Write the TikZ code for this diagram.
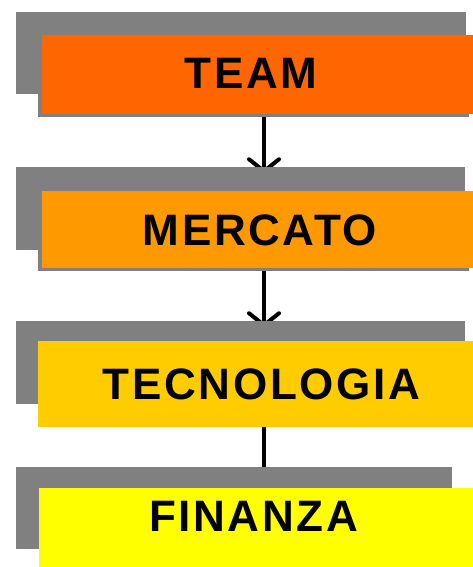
\documentclass[tikz,border=0pt]{standalone}
\usepackage{fontspec}
\setmainfont{Liberation Sans}[LetterSpace=6]
\usetikzlibrary{arrows.meta,backgrounds}
\definecolor{shade}{HTML}{808080}
\definecolor{c1}{HTML}{FF6600}
\definecolor{c2}{HTML}{FF9900}
\definecolor{c3}{HTML}{FFCC00}
\definecolor{c4}{HTML}{FFFF00}
\begin{document}
\begin{tikzpicture}[x=1pt,y=-1pt,
  back/.style={fill=shade,draw=none,inner sep=0pt,rectangle},
  box/.style={draw=none,inner sep=0pt,rectangle},
  dropshade/.style={fill=shade,draw=none,inner sep=0pt,rectangle},
  lbl/.style={anchor=base,inner sep=0pt,font=\fontsize{44}{50}\selectfont\bfseries},
  conn/.style={line width=4pt,black},
  arr/.style={conn,-{Straight Barb[length=12pt,width=30pt,line cap=round]}}]
\useasboundingbox (0,0) rectangle (473,567);
% gray back panels
\node[back,minimum width=450pt,minimum height=82pt] (g1) at (241,53) {};
\node[back,minimum width=449pt,minimum height=83pt] (g2) at (240.5,208.5) {};
\node[back,minimum width=449pt,minimum height=83pt] (g3) at (240.5,362.5) {};
\node[back,minimum width=436pt,minimum height=82pt] (g4) at (234,508) {};
% drop shades
\node[dropshade,minimum width=431pt,minimum height=79pt] (d1) at (253.5,77.5) {};
\node[dropshade,minimum width=431pt,minimum height=79pt] (d2) at (253.5,231) {};
% coloured boxes
\node[box,fill=c1,minimum width=431pt,minimum height=79pt] (b1) at (257.5,74.5) {};
\node[box,fill=c2,minimum width=431pt,minimum height=77pt] (b2) at (257.5,229.5) {};
\node[box,fill=c3,minimum width=435pt,minimum height=86pt] (b3) at (255.5,384) {};
\node[box,fill=c4,minimum width=434pt,minimum height=80pt] (b4) at (256,528) {};
% labels
\node[lbl] (t1) at (251,89) {TEAM};
\node[lbl] (t2) at (260,245) {MERCATO};
\node[lbl] (t3) at (261.5,399) {TECNOLOGIA};
\node[lbl] (t4) at (253.5,531) {FINANZA};
% connectors
\coordinate (xl) at (264,0);
\begin{pgfonlayer}{background}
\draw[arr] (b1.south -| xl) -- ([yshift=-7pt]g2.north -| xl);
\draw[arr] (b2.south -| xl) -- ([yshift=-7pt]g3.north -| xl);
\draw[conn] (b3.south -| xl) -- (g4.north -| xl);
\end{pgfonlayer}
\end{tikzpicture}
\end{document}
